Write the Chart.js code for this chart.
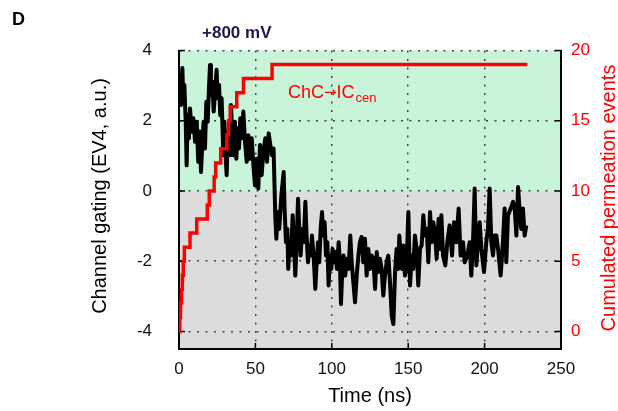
<!DOCTYPE html>
<html>
<head>
<meta charset="utf-8">
<script src="https://cdn.jsdelivr.net/npm/chart.js@4.4.0/dist/chart.umd.min.js"></script>
<style>
  html, body { margin: 0; padding: 0; background: #fff; }
  canvas { display: block; }
</style>
</head>
<body>
<canvas id="gatingChart" width="618" height="411"></canvas>
<script>
// 通道门控 (EV4) 随时间变化
const gatingTime = [
  0, 0.65, 1.3, 2.2, 2.8, 3.5, 4.4, 5.0, 5.7, 6.5,
  7.2, 8.3, 9.4, 10.5, 11.6, 12.6, 13.5, 14.4, 15.3, 16.1,
  17.0, 17.9, 18.8, 19.6, 20.3, 20.9, 21.8, 22.7, 23.6, 24.6,
  25.3, 26.2, 27.0, 27.9, 29.0, 29.7, 30.5, 31.2, 31.8, 32.7,
  33.4, 34.0, 34.9, 35.8, 36.6, 37.5, 38.4, 39.3, 40.1, 41.0,
  42.1, 43.2, 44.3, 45.4, 46.5, 47.6, 48.7, 49.7, 50.8, 51.9,
  53.0, 54.1, 55.2,
  56.5, 57.6, 58.7, 59.8, 60.8, 61.9, 63.0, 63.7, 64.6, 65.6,
  67.0, 68.5, 69.1, 70.0, 70.9, 71.5, 72.4, 73.3, 74.4, 75.2,
  76.1, 77.0, 77.9, 78.7, 79.6, 80.5, 81.6, 82.7, 83.5, 84.4,
  85.3, 86.2, 87.0, 88.1, 89.2, 90.1, 91.0, 91.8, 92.7, 93.6,
  94.4, 95.3, 96.2, 97.1, 97.9, 98.8, 99.7, 100.5, 101.4, 102.3,
  103.4, 104.5, 105.3, 106.0, 106.9, 107.7, 108.8, 109.9, 111.0, 112.1,
  113.0, 114.1, 115.2, 116.3, 117.4, 118.4, 119.5, 120.6, 121.7, 122.8,
  123.9, 125.0, 126.1, 127.2, 128.3, 129.4, 130.4, 131.5, 132.6, 133.7,
  134.8, 135.9, 137.0, 138.1, 139.2, 140.3, 141.4, 142.4, 143.5, 144.2,
  145.1, 145.9, 146.8, 147.9, 149.0, 150.1, 151.2, 152.3, 153.3, 154.4,
  155.5, 156.6, 157.7, 158.8, 159.9, 161.0, 162.1, 163.2, 164.3, 165.3,
  166.4, 167.5, 168.6, 169.9,
  170.6, 171.7, 172.8, 174.3, 175.6, 177.1, 178.7, 180.0, 181.5, 183.0,
  184.3, 185.9, 187.0, 188.7, 190.2, 191.3, 192.4, 193.5, 194.6, 195.7,
  196.8, 197.9, 199.6, 201.1, 202.2, 203.3, 204.4, 205.5, 206.6, 207.7,
  208.8, 210.5, 212.0, 213.1, 214.2, 215.3, 217.1, 218.6, 219.7, 220.8,
  221.9, 223.0, 224.0, 225.1, 226.2, 227.3
];
const gatingValue = [
  2.83, 3.3, 2.45, 3.5, 2.64, 3.02, 1.97, 0.73, 2.16, 1.5,
  2.35, 1.69, 2.07, 1.4, 1.97, 0.83, 1.69, 0.54, 1.4, 1.97,
  1.21, 2.54, 1.97, 2.92, 3.59, 2.73, 3.12, 2.26, 2.83, 3.45,
  2.64, 3.02, 2.16, 2.64, 1.02, 1.97, 1.02, 0.45, 1.4, 1.78,
  1.02, 2.45, 1.59, 1.02, 1.97, 0.92, 1.78, 1.21, 2.07, 1.5,
  2.26, 1.4, 0.83, 1.59, 0.92, 1.5, 0.73, 0.16, 0.92, 0.07,
  1.31, 0.45, 1.12,
  1.5, 0.83, 1.64, 1.31, 1.02, 1.21, -0.69, -1.36, -0.6, -1.08,
  -0.12, 0.54, -0.5, -1.46, -1.08, -2.22, -1.46, -1.84, -0.69, -1.46,
  -2.41, -1.46, -0.22, -1.08, -1.84, -1.08, -1.46, -0.31, -1.27, -2.03,
  -1.55, -1.84, -1.27, -1.84, -2.79, -2.03, -1.46, -2.03, -1.08, -0.6,
  -1.27, -0.89, -1.84, -1.46, -2.69, -1.84, -2.22, -1.65, -2.03, -1.74,
  -2.22, -1.46, -2.03, -3.22, -2.22, -1.84, -2.41, -1.93, -2.22, -1.27,
  -2.03, -2.6, -3.17, -2.41, -1.84, -1.46, -1.31, -2.03, -1.36, -2.41,
  -1.65, -2.22, -1.84, -1.93, -2.79, -1.74, -2.31, -1.93, -2.22, -2.98,
  -2.41, -2.03, -1.84, -2.6, -3.55, -3.79, -2.31, -1.65, -2.22, -1.27,
  -1.84, -2.22, -1.55, -2.41, -2.03, -0.6, -2.69, -1.84, -2.22, -1.27,
  -1.65, -2.69, -1.65, -1.55, -0.69, -1.27, -1.08, -2.03, -0.6, -1.46,
  -0.89, -1.17, -1.93, -0.79,
  -1.65, -0.69, -1.84, -2.12, -1.46, -0.98, -1.84, -0.89, -1.46, -0.5,
  -1.84, -1.46, -2.03, -1.84, -1.46, -2.41, -1.46, 0.07, -2.12, -1.46,
  -0.89, -1.65, -2.31, -1.46, -1.08, 0.07, -1.46, -1.84, -1.27, -1.27,
  -1.65, -2.41, -1.46, -0.5, -2.03, -0.69, -0.5, -0.31, -0.5, -1.27,
  0.11, -0.6, -1.08, -0.5, -1.27, -0.98
];

// 累计渗透事件 (阶梯线)
const eventTime = [0, 0.5, 1, 1.6, 2.2, 2.8, 3.5, 7.2, 11.6, 18.5, 19.8, 23, 24, 27.3, 31.3, 32.4, 33.5, 37.8, 42.2, 60.9, 228];
const eventCount = [0, 1, 2, 3, 4, 5, 6, 7, 8, 9, 10, 11, 12, 13, 14, 15, 16, 17, 18, 19, 19];

// 刻度
const timeTicks = [0, 50, 100, 150, 200, 250];
const gatingTicks = [-4, -2, 0, 2, 4];
const countTicks = [0, 5, 10, 15, 20];

const FONT = '"Liberation Sans", Arial, Helvetica, sans-serif';
Chart.defaults.font.family = FONT;

const toPoints = (xs, ys) => xs.map((x, i) => ({ x, y: ys[i] }));

// 背景色带、内刻度与文字
const decorPlugin = {
  id: 'decor',
  beforeDraw(chart) {
    const { ctx, chartArea: a, scales: { y } } = chart;
    const y0 = y.getPixelForValue(0);
    ctx.save();
    ctx.fillStyle = '#c8f5da';
    ctx.fillRect(a.left, a.top, a.right - a.left, y0 - a.top);
    ctx.fillStyle = '#dcdcdc';
    ctx.fillRect(a.left, y0, a.right - a.left, a.bottom - y0);
    ctx.restore();
  },
  beforeDatasetsDraw(chart) {
    const { ctx, chartArea: a, scales: { x, y, y1 } } = chart;
    ctx.save();
    ctx.strokeStyle = '#000';
    ctx.lineWidth = 1.5;
    ctx.beginPath();
    timeTicks.slice(1, -1).forEach(v => {
      const px = x.getPixelForValue(v);
      ctx.moveTo(px, a.bottom);
      ctx.lineTo(px, a.bottom - 6);
    });
    gatingTicks.forEach(v => {
      const py = y.getPixelForValue(v);
      ctx.moveTo(a.left, py);
      ctx.lineTo(a.left + 6, py);
    });
    countTicks.forEach(v => {
      const py = y1.getPixelForValue(v);
      ctx.moveTo(a.right, py);
      ctx.lineTo(a.right - 6, py);
    });
    ctx.stroke();
    ctx.restore();
  },
  afterDraw(chart) {
    const { ctx } = chart;
    ctx.save();
    ctx.textBaseline = 'alphabetic';
    ctx.textAlign = 'left';

    ctx.fillStyle = '#000';
    ctx.font = 'bold 18px ' + FONT;
    ctx.fillText('D', 12, 25);

    ctx.fillStyle = '#1a1a4d';
    ctx.font = 'bold 17px ' + FONT;
    ctx.fillText('+800 mV', 202, 38);

    // ChC→IC_cen 标注
    ctx.fillStyle = '#ff0000';
    let tx = 288;
    ctx.font = '18px ' + FONT;
    ctx.fillText('ChC', tx, 98);
    tx += ctx.measureText('ChC').width;
    ctx.font = '15px "DejaVu Sans", sans-serif';
    ctx.fillText('\u2192', tx, 97);
    tx += ctx.measureText('\u2192').width;
    ctx.font = '18px ' + FONT;
    ctx.fillText('IC', tx, 98);
    tx += ctx.measureText('IC').width;
    ctx.font = '13px ' + FONT;
    ctx.fillText('cen', tx + 1, 102);

    ctx.textAlign = 'center';
    ctx.textBaseline = 'middle';
    ctx.font = '20px ' + FONT;

    ctx.fillStyle = '#000';
    ctx.fillText('Time (ns)', 370, 396);

    ctx.save();
    ctx.translate(100, 196);
    ctx.rotate(-Math.PI / 2);
    ctx.fillText('Channel gating (EV4, a.u.)', 0, 0);
    ctx.restore();

    ctx.save();
    ctx.fillStyle = '#ff0000';
    ctx.translate(609, 198);
    ctx.rotate(-Math.PI / 2);
    ctx.fillText('Cumulated permeation events', 0, 0);
    ctx.restore();

    ctx.restore();
  }
};

new Chart(document.getElementById('gatingChart'), {
  type: 'line',
  data: {
    datasets: [{
      label: 'ChC→ICcen',
      data: toPoints(eventTime, eventCount),
      yAxisID: 'y1',
      borderColor: '#ff0000',
      borderWidth: 3.5,
      stepped: 'before',
      pointRadius: 0,
      order: 0
    }, {
      label: 'EV4',
      data: toPoints(gatingTime, gatingValue),
      yAxisID: 'y',
      borderColor: '#000',
      borderWidth: 4,
      borderJoinStyle: 'round',
      pointRadius: 0,
      tension: 0,
      order: 1
    }]
  },
  options: {
    responsive: false,
    animation: false,
    devicePixelRatio: 1,
    layout: { padding: { top: 50.5, left: 0, right: 0, bottom: 0 } },
    plugins: { legend: { display: false }, tooltip: { enabled: false } },
    scales: {
      x: {
        type: 'linear',
        min: 0,
        max: 250,
        afterBuildTicks: s => { s.ticks = timeTicks.map(v => ({ value: v })); },
        afterFit: s => { s.height = 62; },
        grid: { color: '#444', lineWidth: 1.5, drawTicks: false },
        border: { display: true, color: '#000', width: 2, dash: [2, 6.5] },
        ticks: { padding: 10, color: '#111', font: { size: 17 }, maxRotation: 0 }
      },
      y: {
        position: 'left',
        min: -4.5,
        max: 4,
        afterBuildTicks: s => { s.ticks = gatingTicks.map(v => ({ value: v })); },
        afterFit: s => { s.width = 179; },
        grid: { color: '#444', lineWidth: 1.5, drawTicks: false },
        border: { display: true, color: '#000', width: 2, dash: [2, 6.5] },
        ticks: { padding: 27, color: '#111', font: { size: 17 } }
      },
      y1: {
        position: 'right',
        min: -1.25,
        max: 20,
        afterBuildTicks: s => { s.ticks = countTicks.map(v => ({ value: v })); },
        afterFit: s => { s.width = 57; },
        grid: { display: false, drawTicks: false },
        border: { display: true, color: '#000', width: 2 },
        ticks: { padding: 10, color: '#ff0000', font: { size: 17 } }
      }
    }
  },
  plugins: [decorPlugin]
});
</script>
</body>
</html>
